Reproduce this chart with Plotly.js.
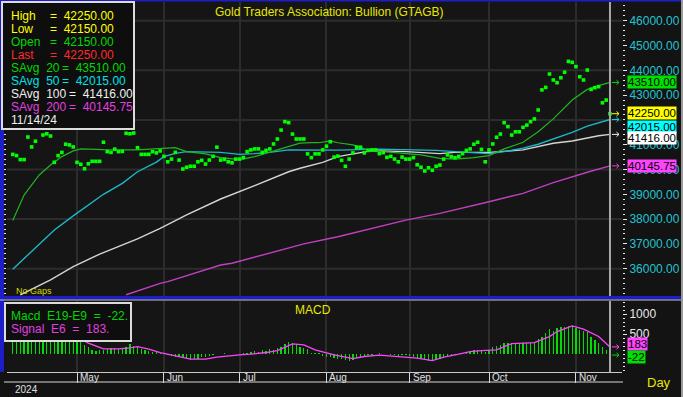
<!DOCTYPE html>
<html><head><meta charset="utf-8">
<script src="https://cdn.plot.ly/plotly-3.0.1.min.js"></script>
<style>html,body{margin:0;padding:0;background:#131313;overflow:hidden}#chart{width:683px;height:397px}</style>
</head><body><div id="chart"></div>
<script>
// ---------- DATA ----------
const chartTitle = "Gold Traders Association: Bullion (GTAGB)";
// daily closes (one per trading day, index 0 = 8 Apr 2024 ... 158 = 14 Nov 2024)
const closes = [
 40610,40560,40400,40400,41310,40910,41140,41710,41390,41440,
 41350,40290,40560,40690,41020,40990,40910,40290,40210,40030,
 40230,40330,40330,40330,41100,40720,40690,40820,40720,40730,
 41460,41440,41470,40880,40610,40610,40610,40720,40670,40750,
 40530,40310,40420,40690,40380,40020,40090,40130,40130,40310,
 40370,40220,40380,40530,40900,40380,40410,40310,40270,40420,
 40420,40480,40720,40790,40830,40830,40690,40770,40830,41030,
 41230,41590,41930,41890,41430,41230,41230,41230,40630,40480,
 40630,40630,40790,40940,41120,40500,40540,40370,40130,40420,
 40670,40900,40900,40670,40770,40790,40790,40640,40680,40490,
 40530,40420,40310,40500,40420,40420,40480,40190,40090,39940,
 40070,39970,40130,40180,40420,40590,40520,40480,40530,40640,
 40770,40830,41020,41100,40810,40310,40790,41030,41300,41430,
 41890,41730,41390,41520,41520,41700,41790,41930,42040,42400,
 43210,43310,43850,43610,43500,43700,43920,44360,44320,44150,
 43740,43610,44010,43230,43300,43340,42690,42800,42250
];
// moving averages read at sample days
const ma20Idx = [0,3,7,10,13,16,18,24,33,38,43,46,51,55,60,64,68,73,76,79,81,84,86,90,93,98,104,108,113,117,122,126,130,135,139,143,148,152,155,158];
const ma20Val = [37940,38970,39780,40180,40520,40750,40830,40800,40790,40840,40880,40720,40630,40480,40400,40520,40690,40920,41060,41080,41080,41150,41080,40990,40830,40720,40640,40590,40450,40420,40480,40560,40830,41100,41520,42040,42800,43230,43380,43510];
const ma50Idx = [0,7,11,16,20,24,29,33,38,40,43,46,55,60,64,68,73,79,86,97,104,112,117,122,126,130,135,139,143,148,152,158];
const ma50Val = [35980,36960,37560,38130,38570,39000,39440,39910,40300,40520,40650,40720,40690,40610,40640,40690,40790,40790,40780,40820,40800,40770,40720,40680,40640,40720,40860,41020,41220,41500,41750,42015];
const ma100Idx = [2,7,10,16,23,33,39,46,50,55,64,73,76,79,82,86,90,95,104,113,117,126,135,139,143,148,152,155,158];
const ma100Val = [34940,35340,35550,36080,36590,37200,37630,38170,38440,38810,39350,39910,40050,40180,40290,40520,40640,40760,40720,40640,40690,40690,40790,40920,41060,41150,41280,41360,41416];
const ma200Idx = [30,39,41,55,58,73,77,86,95,104,113,117,126,135,143,152,158];
const ma200Val = [34950,35410,35480,36150,36220,36850,37000,37290,37630,37960,38230,38370,38700,39040,39470,39890,40145.75];
// MACD histogram (one per day) and signal line samples
const macdVals = [
 620,600,570,560,590,560,560,600,590,580,
 560,490,470,460,470,460,440,400,330,220,
 175,110,90,110,110,125,150,150,135,150,
 190,250,210,175,125,110,85,65,50,25,
 0,-25,-40,-60,-75,-100,-115,-140,-125,-110,
 -75,-60,-40,-15,0,10,25,10,0,10,
 0,25,40,65,90,65,110,90,125,110,
 150,190,250,315,275,250,190,150,125,40,
 25,25,-40,-60,-75,-90,-110,-130,-150,-160,
 -140,-100,-60,-40,-25,-10,15,25,10,0,
 -15,-25,-40,-30,-25,-40,-60,-90,-110,-140,
 -160,-165,-150,-120,-90,-60,-40,-20,15,40,
 55,70,100,110,100,60,110,175,200,230,
 290,290,280,270,260,270,280,290,310,375,
 440,525,625,570,650,670,690,710,695,660,
 600,570,545,440,360,290,190,110,-22
];
const sigIdx = [18,20,24,28,31,33,36,39,44,47,51,54,60,63,67,70,74,77,80,83,85,90,93,97,100,104,107,111,114,118,121,124,128,132,138,142,144,148,151,155,158];
const sigVal = [380,275,134,134,160,190,125,42,-58,-125,-125,-75,-17,0,42,92,259,234,109,25,-17,-109,-58,-25,-42,-75,-100,-159,-75,0,67,92,109,267,292,442,568,710,626,443,183];
// labels
const monthNames = ["May","Jun","Jul","Aug","Sep","Oct","Nov"];
const monthStartIdx = [17,40,60,83,105,126,149];
const yearLabel = "2024";
const lastDate = "11/14/24";
const barHigh = 42250, barLow = 42150, barOpen = 42150, barLast = 42250;
const priceTickVals = [36000,37000,38000,39000,40000,41000,43000,44000,45000,46000];
const gridLevels = [36000,38000,40000,42000,44000,46000];
const macdTicks = [500,1000];

// ---------- GEOMETRY HELPERS (pixel -> paper) ----------
const L=7, R=622, T=2, B=372;
const PX = px => (px-L)/(R-L);
const PY = py => (B-py)/(B-T);
const FONT = "Liberation Sans, Arial, sans-serif";
const ann = (text, px, py, color, size, xa, extra) => Object.assign({
  text: text, xref:'paper', yref:'paper', x: PX(px), y: PY(py),
  xanchor: xa||'left', yanchor:'middle', showarrow:false,
  font:{family:FONT, size:size||12, color:color}
}, extra||{});

const idx = closes.map((_,i)=>i);
const lastI = closes.length-1;
const C = {g20:'#22b422', c50:'#1ab8c8', w100:'#d4d4d4', m200:'#c040c0', dot:'#00ff00', bar:'#00dd00', sig:'#ff44ff'};
const PRICE_RANGE = [34859, 46754], MACD_RANGE = [-446, 1333];
const priceUnitsPerPx = (PRICE_RANGE[1]-PRICE_RANGE[0])/295;
const macdUnitsPerPx = (MACD_RANGE[1]-MACD_RANGE[0])/71;

const traces = [
 {x:ma200Idx, y:ma200Val, type:'scatter', mode:'lines', line:{color:C.m200, width:1.4}, xaxis:'x', yaxis:'y'},
 {x:ma100Idx, y:ma100Val, type:'scatter', mode:'lines', line:{color:C.w100, width:1.4}, xaxis:'x', yaxis:'y'},
 {x:ma50Idx, y:ma50Val, type:'scatter', mode:'lines', line:{color:C.c50, width:1.4}, xaxis:'x', yaxis:'y'},
 {x:ma20Idx, y:ma20Val, type:'scatter', mode:'lines', line:{color:C.g20, width:1.2}, xaxis:'x', yaxis:'y'},
 {x:idx, y:closes, type:'scatter', mode:'markers', marker:{symbol:'square', size:3.6, color:C.dot, line:{width:0}}, xaxis:'x', yaxis:'y'},
 {x:idx, y:macdVals, type:'bar', width:0.35, marker:{color:C.bar, line:{width:0}}, xaxis:'x', yaxis:'y2'},
 {x:sigIdx, y:sigVal, type:'scatter', mode:'lines', line:{color:C.sig, width:1.3}, xaxis:'x', yaxis:'y2'}
];

const shapes = [];
gridLevels.forEach(v => shapes.push({type:'line', xref:'paper', yref:'y', x0:0, x1:1, y0:v, y1:v, line:{color:'#2c2c2c', width:2}, layer:'below'}));
// current-day line
shapes.push({type:'line', xref:'x', yref:'y domain', x0:lastI, x1:lastI, y0:0, y1:1, line:{color:'#a8a8a8', width:2}});
shapes.push({type:'line', xref:'x', yref:'y2 domain', x0:lastI, x1:lastI, y0:0, y1:1, line:{color:'#a8a8a8', width:2}});
// frame
const rectPx = (x0,y0,x1,y1,fill,line,lw) => ({type:'rect', xref:'paper', yref:'paper', x0:PX(x0), x1:PX(x1), y0:PY(y1), y1:PY(y0), fillcolor:fill, line:{color:line||'rgba(0,0,0,0)', width:lw||0}, layer:'above'});
shapes.push(rectPx(0,0,683,1.5,'#1e1ec8'));
shapes.push(rectPx(0,0,4,372,'#1e1ec8'));
shapes.push(rectPx(0,296,683,299.5,'#1e1ec8'));
shapes.push(rectPx(0,299.5,683,300.5,'#c8c8c8'));
shapes.push(rectPx(4,381.5,623,382.5,'#d8d8d8'));
shapes.push(rectPx(681,0,683,397,'#9a9a9a'));
// legend boxes
shapes.push(rectPx(2,2,134,129,'#0e0e0e','#dcdcdc',2));
shapes.push(rectPx(5,303,131,341,'#0e0e0e','#dcdcdc',2));
// small arrows pointing at the value badges
const arrowShape = (yref, v, col) => {
  const d = 2.3 * (yref==='y' ? priceUnitsPerPx : macdUnitsPerPx);
  const x0 = PX(612), x1 = PX(619), xh = PX(616.5);
  return {type:'path', xref:'paper', yref:yref, path:`M ${x0},${v} L ${x1},${v} M ${xh},${v+d} L ${x1},${v} L ${xh},${v-d}`, line:{color:col, width:1}, layer:'above'};
};

const annotations = [];
annotations.push(ann(chartTitle, 330, 12, '#e8e800', 12, 'center'));
annotations.push(ann('No Gaps', 14, 291, '#d8d800', 9));
annotations.push(ann('MACD', 313, 310, '#e8e800', 12, 'center'));
annotations.push(ann('Day', 659, 383, '#e8e800', 13, 'center'));
annotations.push(ann(yearLabel, 13, 389, '#e0e0e0', 10));
monthNames.forEach((m,k) => annotations.push({text:m, xref:'x', yref:'paper', x:monthStartIdx[k], y:PY(377), xanchor:'left', yanchor:'middle', xshift:1, showarrow:false, font:{family:FONT, size:10, color:'#e0e0e0'}}));

// price legend
const f2 = v => v.toFixed(2);
const last = a => a[a.length-1];
const legRows = [
 ['High', '=  '+f2(barHigh), '#ffff00', 48],
 ['Low', '=  '+f2(barLow), '#ffff00', 48],
 ['Open', '=  '+f2(barOpen), '#00d800', 48],
 ['Last', '=  '+f2(barLast), '#ff2a2a', 48],
 ['SAvg  20', '=  '+f2(last(ma20Val)), '#00d800', 60],
 ['SAvg  50', '=  '+f2(last(ma50Val)), '#00e0e8', 60],
 ['SAvg  100', '=  '+f2(last(ma100Val)), '#f0f0f0', 67],
 ['SAvg  200', '=  '+f2(last(ma200Val)), '#e040e0', 67]
];
legRows.forEach((r,k) => {
  const py = 16 + k*13;
  annotations.push(ann(r[0].replace(/ /g,'\u00a0'), 9, py, r[2], 12));
  annotations.push(ann(r[1].replace(/ /g,'\u00a0'), r[3], py, r[2], 12));
});
annotations.push(ann(lastDate, 9, 120, '#f0f0f0', 12));
// MACD legend
const macdLast = last(macdVals), sigLast = last(sigVal);
annotations.push(ann('Macd\u00a0\u00a0E19-E9\u00a0\u00a0=\u00a0\u00a0'+macdLast+'.', 9, 316, '#00d800', 12));
annotations.push(ann('Signal\u00a0\u00a0E6\u00a0\u00a0=\u00a0\u00a0'+sigLast+'.', 9, 329, '#e040e0', 12));

// right-side value badges
const badge = (txt, yref, y, bg, ys) => ({text:txt, xref:'paper', yref:yref, x:PX(627), y:y, xanchor:'left', yanchor:'middle', yshift:ys||0, showarrow:false, bgcolor:bg, borderpad:0, font:{family:FONT, size:11.5, color:'#000000'}});
annotations.push(badge(f2(last(ma20Val)), 'y', last(ma20Val), '#00e000'));
annotations.push(badge(f2(barLast), 'y', barLast, '#ffff00', 1));
annotations.push(badge(f2(last(ma50Val)), 'y', last(ma50Val), '#00ffff', -7));
annotations.push(badge(f2(last(ma100Val)), 'y', last(ma100Val), '#ffffff', -4));
annotations.push(badge(f2(last(ma200Val)), 'y', last(ma200Val), '#ff44ff'));
annotations.push(badge(String(sigLast), 'y2', sigLast, '#ff44ff', 3));
annotations.push(badge(String(macdLast), 'y2', macdLast, '#00e000', -2));
shapes.push(arrowShape('y', last(ma20Val), '#00d800'));
shapes.push(arrowShape('y', barLast, '#ffff00'));
shapes.push(arrowShape('y', last(ma50Val), '#00e0e8'));
shapes.push(arrowShape('y', last(ma100Val), '#f0f0f0'));
shapes.push(arrowShape('y', last(ma200Val), '#e040e0'));
shapes.push(arrowShape('y2', sigLast, '#ff44ff'));
shapes.push(arrowShape('y2', macdLast, '#00d800'));

const layout = {
  width:683, height:397, margin:{l:L, r:683-R, t:T, b:397-B, pad:0},
  paper_bgcolor:'#131313', plot_bgcolor:'#151515', showlegend:false,
  font:{family:FONT, size:12, color:'#e0e0e0'},
  bargap:0,
  xaxis:{anchor:'y2', range:[-1.52, 161.18], tickmode:'array', tickvals:monthStartIdx, ticktext:monthNames.map(()=>''),
         showticklabels:false, ticks:'outside', ticklen:10, tickcolor:'#d8d8d8', tickwidth:1,
         showgrid:true, gridcolor:'#2c2c2c', gridwidth:2, zeroline:false, showline:true, linecolor:'#c8c8c8', linewidth:1, fixedrange:true},
  yaxis:{domain:[PY(297),1], side:'right', anchor:'x', range:PRICE_RANGE, tickmode:'array', tickvals:priceTickVals, tickformat:'.2f',
         tickfont:{family:FONT, size:12, color:'#22c4d0'}, ticks:'outside', ticklen:4, tickcolor:'#e8e8e8',
         minor:{tickmode:'linear', tick0:0, dtick:200, ticks:'outside', ticklen:2, tickcolor:'#e8e8e8', showgrid:false},
         showgrid:false, zeroline:false, showline:false, mirror:'ticks', fixedrange:true},
  yaxis2:{domain:[0, PY(301)], side:'right', anchor:'x', range:MACD_RANGE, tickmode:'array', tickvals:macdTicks,
         tickfont:{family:FONT, size:12, color:'#e8e8e8'}, ticks:'outside', ticklen:4, tickcolor:'#e8e8e8',
         minor:{tickmode:'linear', tick0:0, dtick:100, ticks:'outside', ticklen:2, tickcolor:'#e8e8e8', showgrid:false},
         showgrid:false, zeroline:false, showline:false, fixedrange:true},
  shapes:shapes, annotations:annotations
};
Plotly.newPlot('chart', traces, layout, {staticPlot:true, displayModeBar:false});
</script></body></html>
